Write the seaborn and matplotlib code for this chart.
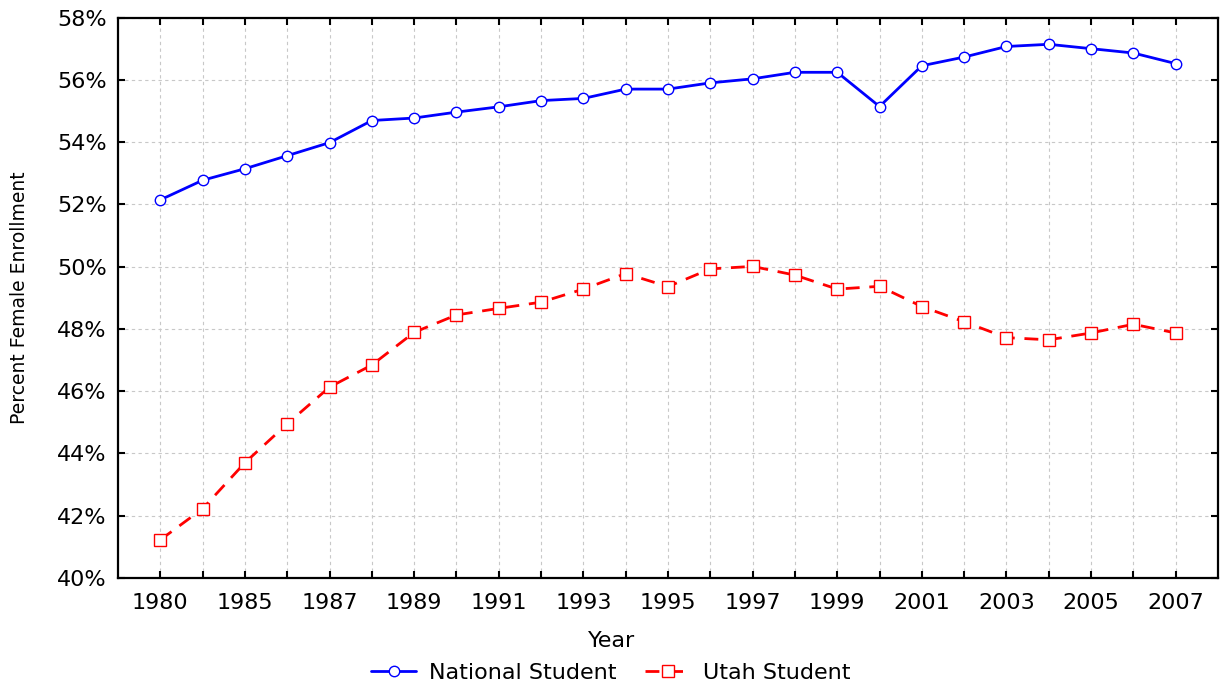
import numpy as np
import pandas as pd
import matplotlib.pyplot as plt
import seaborn as sns
from matplotlib.ticker import FuncFormatter

# values (percent)
years = ["1980", "1984", "1985", "1986", "1987", "1988", "1989", "1990",
         "1991", "1992", "1993", "1994", "1995", "1996", "1997", "1998",
         "1999", "2000", "2001", "2002", "2003", "2004", "2005", "2006", "2007"]
national = [52.15, 52.78, 53.15, 53.57, 53.99, 54.70, 54.78, 54.97, 55.14,
            55.34, 55.41, 55.71, 55.71, 55.91, 56.04, 56.25, 56.25, 55.15,
            56.46, 56.74, 57.08, 57.15, 57.01, 56.87, 56.53]
utah = [41.22, 42.22, 43.70, 44.95, 46.13, 46.84, 47.89, 48.45, 48.66,
        48.86, 49.28, 49.78, 49.36, 49.93, 50.01, 49.73, 49.28, 49.37,
        48.72, 48.23, 47.72, 47.65, 47.87, 48.15, 47.87]
y_ticks = [40, 42, 44, 46, 48, 50, 52, 54, 56, 58]

df = pd.DataFrame({"Year": years, "National Student": national, "Utah Student": utah})

sns.set_theme(style="ticks")
plt.rcParams["font.family"] = ["DejaVu Sans"]
plt.rcParams["text.color"] = "black"

fig, ax = plt.subplots(figsize=(12.22, 6.87), dpi=100)
fig.subplots_adjust(left=0.0966, right=0.9967, top=0.974, bottom=0.159)

sns.lineplot(data=df, x="Year", y="National Student", ax=ax, color="#0000ff",
             linewidth=2, marker="o", markersize=7.5, markerfacecolor="white",
             markeredgecolor="#0000ff", markeredgewidth=1, label="National Student")
sns.lineplot(data=df, x="Year", y="Utah Student", ax=ax, color="#ff0000",
             linewidth=2, linestyle=(0, (5, 3.5)), marker="s", markersize=8,
             markerfacecolor="white", markeredgecolor="#ff0000",
             markeredgewidth=1, label="Utah Student")

ax.set_xlim(-1, len(years))
ax.set_ylim(40, 58)
ax.set_xticks(range(len(years)))
ax.set_xticklabels([y if i % 2 == 0 else "" for i, y in enumerate(years)])
ax.set_yticks(y_ticks)
ax.yaxis.set_major_formatter(FuncFormatter(lambda v, p: f"{v:.0f}%"))

ax.grid(True, color="#c8c8c8", linestyle=(0, (3, 3)), linewidth=0.8)
ax.set_axisbelow(True)
for s in ax.spines.values():
    s.set_linewidth(1.6)
    s.set_color("black")
ax.tick_params(direction="in", top=True, right=True, length=5, width=1.5,
               labelsize=16, colors="black")
ax.tick_params(axis="x", pad=11)
ax.tick_params(axis="y", pad=8)

ax.set_ylabel("Percent Female Enrollment", fontsize=13.5, color="black")
ax.yaxis.set_label_coords(-0.081, 0.5)
ax.set_xlabel("Year", fontsize=16, color="black")
ax.xaxis.set_label_coords(0.449, -0.095)

ax.get_legend().remove()
handles, labels = ax.get_legend_handles_labels()
fig.legend(handles, labels, loc="center", bbox_to_anchor=(0.5, 0.02), ncol=2,
           frameon=False, fontsize=16, handlelength=2.0, handletextpad=0.6,
           columnspacing=1.3, labelcolor="black")

fig.savefig("out.png", dpi=100)
